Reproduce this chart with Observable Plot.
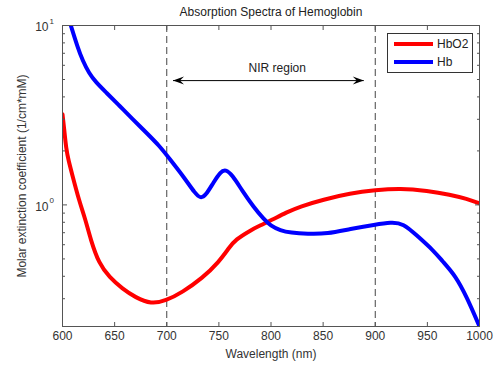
<!DOCTYPE html>
<html>
<head>
<meta charset="utf-8">
<script src="https://cdn.jsdelivr.net/npm/d3@7"></script>
<script src="https://cdn.jsdelivr.net/npm/@observablehq/plot@0.6"></script>
<style>
  html, body { margin: 0; padding: 0; background: #fff; }
  #wrap { position: relative; width: 500px; height: 366px; font-family: "Liberation Sans", Arial, sans-serif; }
  #legend { position: absolute; left: 387px; top: 33px; width: 86px; height: 40px; border: 1px solid #333; background: #fff; box-sizing: border-box; }
  .item { position: absolute; left: 6px; height: 14px; display: flex; align-items: center; font-size: 12px; color: #222; }
  .sw { width: 39px; height: 4px; margin-right: 4px; }
</style>
</head>
<body>
<div id="wrap"></div>
<script>
// ---- data ----
const title = "Absorption Spectra of Hemoglobin";
const xLabel = "Wavelength (nm)";
const yLabel = "Molar extinction coefficient (1/cm*mM)";
const seriesNames = ["HbO2", "Hb"];
const seriesColors = ["#ff0000", "#0000ff"];

const hbo2Wavelength = [600, 601.5, 603.5, 606, 609, 616, 622, 627, 635, 645, 657.6, 670, 685, 699, 715, 734, 750, 760, 766, 780, 790, 800, 815, 828, 850, 876, 900, 924, 950, 972, 988, 1000];
const hbo2Value =      [3.2, 2.7, 2.05, 1.75, 1.5, 1.05, 0.83, 0.64, 0.47, 0.395, 0.34, 0.305, 0.28, 0.292, 0.326, 0.39, 0.48, 0.58, 0.64, 0.72, 0.77, 0.82, 0.91, 0.98, 1.07, 1.16, 1.21, 1.24, 1.20, 1.14, 1.08, 1.02];

const hbWavelength = [608, 614.4, 619.2, 625.6, 632, 641.6, 654.4, 667, 680, 692.8, 702.3, 716.4, 727.6, 732.4, 737, 745, 751.6, 756.4, 762.8, 772.4, 783.5, 793, 799.5, 809, 818.7, 835, 854, 876, 900, 915, 927, 940, 956, 964, 977, 988, 1000];
const hbValue =      [10, 7.6, 6.4, 5.4, 4.83, 4.25, 3.58, 3.02, 2.54, 2.14, 1.82, 1.43, 1.15, 1.09, 1.12, 1.34, 1.53, 1.58, 1.47, 1.20, 0.97, 0.835, 0.766, 0.72, 0.70, 0.69, 0.69, 0.735, 0.776, 0.80, 0.79, 0.674, 0.556, 0.489, 0.403, 0.305, 0.21];

const xTicks = [600, 650, 700, 750, 800, 850, 900, 950, 1000];
const yMajor = [1, 10];
const yMajorExp = ["0", "1"];
const yMinor = [0.3, 0.4, 0.5, 0.6, 0.7, 0.8, 0.9, 2, 3, 4, 5, 6, 7, 8, 9];
const nirBounds = [700, 900];
const nirArrow = {x1: 706, x2: 889, y: 4.93};
const nirLabel = {text: "NIR region", x: 806, y: 5.8};

// ---- build ----
const rows = [
  ...hbo2Wavelength.map((w, i) => ({w, v: hbo2Value[i], s: seriesNames[0]})),
  ...hbWavelength.map((w, i) => ({w, v: hbValue[i], s: seriesNames[1]}))
];

const headRight = {draw(ctx) { ctx.moveTo(0, 0); ctx.lineTo(-11, -4); ctx.lineTo(-7, 0); ctx.lineTo(-11, 4); ctx.closePath(); }};
const axisColor = "#555";
const textColor = "#333";

const chart = Plot.plot({
  width: 500,
  height: 366,
  marginTop: 25,
  marginBottom: 40,
  marginLeft: 62,
  marginRight: 21,
  style: {fontFamily: "Liberation Sans, Arial, sans-serif", fontSize: "12px", color: textColor, background: "#fff", overflow: "visible"},
  x: {domain: [600, 1000], axis: null},
  y: {type: "log", domain: [0.21, 10], axis: null},
  color: {domain: seriesNames, range: seriesColors},
  marks: [
    // dashed NIR bounds
    Plot.ruleX(nirBounds, {stroke: "#444", strokeDasharray: "7,4", strokeWidth: 1}),
    // arrow
    Plot.link([nirArrow], {x1: "x1", x2: "x2", y1: "y", y2: "y", stroke: "#000", strokeWidth: 1}),
    Plot.dot([nirArrow], {x: "x2", y: "y", symbol: headRight, fill: "#000", stroke: null}),
    Plot.dot([nirArrow], {x: "x1", y: "y", symbol: headRight, rotate: 180, fill: "#000", stroke: null}),
    Plot.text([nirLabel], {x: "x", y: "y", text: "text", fontSize: 12, fill: "#222"}),
    // curves
    Plot.line(rows, {x: "w", y: "v", z: "s", stroke: "s", strokeWidth: 4, curve: "basis", clip: true}),
    // frame
    Plot.frame({stroke: axisColor}),
    // x ticks bottom / top (inward)
    Plot.axisX(xTicks, {anchor: "bottom", tickSize: -4, tickPadding: 9, tickFormat: d3.format("d"), stroke: axisColor, fill: textColor, fontSize: 12, label: null}),
    Plot.axisX(xTicks, {anchor: "top", tickSize: -4, tickFormat: () => "", stroke: axisColor, label: null}),
    // y ticks left / right
    Plot.axisY(yMajor, {anchor: "left", tickSize: -5, tickFormat: () => "", stroke: axisColor, label: null}),
    Plot.axisY(yMinor, {anchor: "left", tickSize: -3, tickFormat: () => "", stroke: axisColor, label: null}),
    Plot.axisY(yMajor, {anchor: "right", tickSize: -5, tickFormat: () => "", stroke: axisColor, label: null}),
    Plot.axisY(yMinor, {anchor: "right", tickSize: -3, tickFormat: () => "", stroke: axisColor, label: null}),
    // y tick labels with exponent
    Plot.text(yMajor, {y: d => d, frameAnchor: "left", text: () => "10", textAnchor: "end", dx: -14, dy: 2, fontSize: 12, fill: textColor}),
    Plot.text(yMajor, {y: d => d, frameAnchor: "left", text: (d, i) => yMajorExp[i], textAnchor: "start", dx: -13, dy: -4, fontSize: 8, fill: textColor}),
    // labels
    Plot.text([title], {frameAnchor: "top", text: d => d, dy: -13, lineAnchor: "middle", textAnchor: "middle", fontSize: 12, fill: "#222"}),
    Plot.text([xLabel], {frameAnchor: "bottom", text: d => d, dy: 28, lineAnchor: "middle", textAnchor: "middle", fontSize: 12, fill: textColor}),
    Plot.text([yLabel], {frameAnchor: "left", text: d => d, rotate: -90, dx: -40, lineAnchor: "middle", textAnchor: "middle", fontSize: 12, fill: textColor})
  ]
});

const wrap = document.getElementById("wrap");
wrap.appendChild(chart);

const legend = document.createElement("div");
legend.id = "legend";
seriesNames.forEach((name, i) => {
  const it = document.createElement("div");
  it.className = "item";
  it.style.top = (3 + i * 18) + "px";
  const sw = document.createElement("div");
  sw.className = "sw";
  sw.style.background = seriesColors[i];
  const tx = document.createElement("span");
  tx.textContent = name;
  it.appendChild(sw); it.appendChild(tx);
  legend.appendChild(it);
});
wrap.appendChild(legend);
</script>
</body>
</html>
